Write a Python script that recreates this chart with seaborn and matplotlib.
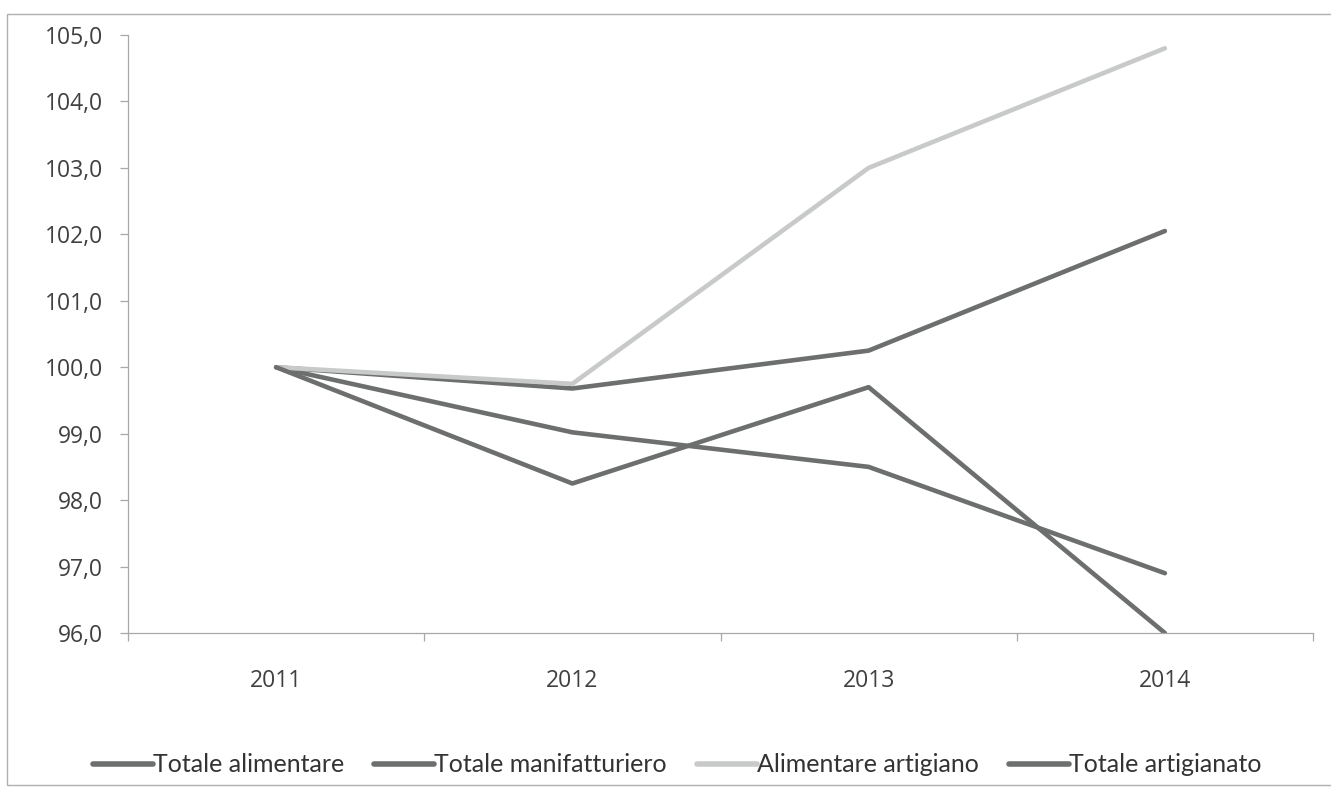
import matplotlib
matplotlib.use("Agg")
import matplotlib.pyplot as plt
import seaborn as sns
import pandas as pd
from matplotlib.patches import Rectangle
from matplotlib.ticker import FixedLocator, FuncFormatter

years = ["2011", "2012", "2013", "2014"]
totale_alimentare = [100.0, 99.68, 100.25, 102.05]
totale_manifatturiero = [100.0, 99.02, 98.50, 96.90]
alimentare_artigiano = [100.0, 99.75, 103.0, 104.8]
totale_artigianato = [100.0, 98.25, 99.70, 96.0]
series_names = ["Totale alimentare", "Totale manifatturiero",
                "Alimentare artigiano", "Totale artigianato"]
series_values = [totale_alimentare, totale_manifatturiero,
                 alimentare_artigiano, totale_artigianato]

rows = []
for name, vals in zip(series_names, series_values):
    for i, (y, v) in enumerate(zip(years, vals)):
        rows.append({"pos": i, "anno": y, "serie": name, "valore": v})
df = pd.DataFrame(rows)

sns.set_theme(style="white")
plt.rcParams["font.family"] = ["Open Sans", "DejaVu Sans"]

dark = "#6c6f6e"
light = "#c8cac9"
palette = {"Totale alimentare": dark, "Totale manifatturiero": dark,
           "Alimentare artigiano": light, "Totale artigianato": dark}

fig = plt.figure(figsize=(13.31, 7.87), dpi=100)
ax = fig.add_axes([128 / 1331, 1 - 633 / 787, (1313 - 128) / 1331, (633 - 35) / 787])

sns.lineplot(data=df, x="pos", y="valore", hue="serie", hue_order=series_names,
             palette=palette, linewidth=3.3, ax=ax, legend=True, sort=False)

ax.set_xlim(-0.5, 3.5)
ax.set_ylim(96, 105)
ax.set_xlabel("")
ax.set_ylabel("")

axis_col = "#a8a8a8"
for side in ["top", "right"]:
    ax.spines[side].set_visible(False)
for side in ["left", "bottom"]:
    ax.spines[side].set_color(axis_col)
    ax.spines[side].set_linewidth(0.9)

ax.yaxis.set_major_locator(FixedLocator([96 + i for i in range(10)]))
ax.yaxis.set_major_formatter(FuncFormatter(lambda v, p: f"{v:.1f}".replace(".", ",")))
ax.xaxis.set_major_locator(FixedLocator([-0.5, 0.5, 1.5, 2.5, 3.5]))
ax.xaxis.set_major_formatter(FuncFormatter(lambda v, p: ""))
ax.xaxis.set_minor_locator(FixedLocator([0, 1, 2, 3]))
ax.xaxis.set_minor_formatter(FuncFormatter(lambda v, p: years[int(round(v))]))

ax.tick_params(axis="y", which="major", direction="out", length=6, width=0.9,
               color=axis_col, labelsize=16.5, labelcolor="#404040", pad=12, left=True)
ax.tick_params(axis="x", which="major", direction="out", length=6, width=0.9,
               color=axis_col, bottom=True)
ax.tick_params(axis="x", which="minor", length=0, labelsize=16.5,
               labelcolor="#404040", pad=26)

handles, labels = ax.get_legend_handles_labels()
ax.legend_.remove()
leg = fig.legend(handles, labels, loc="center", bbox_to_anchor=(677 / 1331, 1 - 765 / 787),
                 ncol=4, frameon=False, prop={"family": ["Lato", "DejaVu Sans"], "size": 18},
                 handlelength=2.4, handletextpad=0.0, columnspacing=1.2)
for t in leg.get_texts():
    t.set_color("#333333")
for h in leg.get_lines():
    h.set_linewidth(4.0)

fig.patches.append(Rectangle((7 / 1331, 2 / 787), 1.1, (785 - 14) / 787,
                             transform=fig.transFigure, fill=False,
                             edgecolor="#b0b0b0", linewidth=1.0))

fig.savefig("out.png", dpi=100, facecolor="white")
